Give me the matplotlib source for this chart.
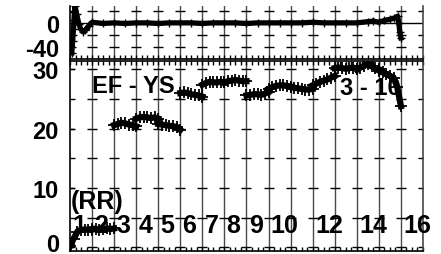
import numpy as np
import matplotlib.pyplot as plt
import matplotlib.transforms as mtransforms
from matplotlib.ticker import MultipleLocator

plt.rcParams['font.family'] = ['Liberation Sans', 'DejaVu Sans']
plt.rcParams['font.weight'] = 'bold'
plt.rcParams['axes.unicode_minus'] = False

# EF - YS per RR interval
rr_values = [
    [0.2, 1.5, 2.6, 3.0, 3.0, 3.0, 3.1],
    [3.0, 3.1, 3.0, 3.1, 3.2, 3.1, 3.2],
    [20.6, 20.8, 21.0, 20.9, 20.7, 20.6, 20.4],
    [21.7, 21.9, 22.0, 21.9, 21.8, 21.9, 21.7],
    [20.8, 20.7, 20.6, 20.5, 20.4, 20.3, 19.8],
    [26.0, 26.1, 26.0, 25.8, 25.7, 25.6, 25.4],
    [27.4, 27.7, 27.9, 27.8, 27.8, 27.9, 27.8],
    [27.8, 28.0, 28.1, 28.2, 28.1, 28.0, 28.0],
    [25.6, 25.7, 25.8, 25.8, 25.7, 25.9, 26.2],
    [26.7, 27.0, 27.2, 27.3, 27.3, 27.2, 27.1],
    [27.0, 26.9, 26.8, 26.7, 26.6, 26.6, 26.7],
    [27.3, 27.6, 27.9, 28.1, 28.3, 28.6, 28.9],
    [30.2, 30.3, 30.2, 30.1, 30.2, 30.3, 30.1],
    [30.0, 30.3, 30.6, 30.9, 30.5, 30.2, 30.0],
    [29.8, 29.5, 29.2, 28.9, 28.6, 27.0, 23.8],
]
rr_labels = ['1', '2', '3', '4', '5', '6', '7', '8', '9', '10', '12', '14', '16']
rr_label_pos = [0, 1, 2, 3, 4, 5, 6, 7, 8, 9, 11, 13, 15]

# upper trace
top_x = [0.08, 0.1, 0.12, 0.14, 0.16, 0.18, 0.2, 0.23, 0.3, 0.4, 0.5, 0.6,
         0.7, 0.85, 1.0, 1.5, 2.0, 2.5, 3.0, 3.5, 4.0, 4.5, 5.0, 5.5, 6.0,
         6.5, 7.0, 7.5, 8.0, 8.5, 9.0, 9.5, 10.0, 10.5, 11.0, 11.5, 12.0,
         12.5, 13.0, 13.5, 13.75, 14.0, 14.25, 14.5, 14.7, 14.85, 14.9,
         14.95, 15.0]
top_y = [-50, -40, -30, -20, -10, 5, 18, 28, 15, -2, -11, -15,
         -12, -5, 1, -1, 0, -1, 0, 0, -1, 0, 0, 0, -1,
         0, 0, 0, -1, 0, 0, 0, 0, 0, 1, 0, 0,
         0, 0, 2, 3, 1, 4, 6, 8, 11, 0,
         -15, -25]

fig = plt.figure(figsize=(4.41, 2.55), dpi=100)
ax1 = fig.add_axes([0.1587, 0.7647, 0.8005, 0.2078])
ax2 = fig.add_axes([0.1587, 0.0118, 0.8005, 0.745])

grid_x = np.arange(0, 17)

for ax in (ax1, ax2):
    ax.set_xlim(0, 16)
    for gx in grid_x[1:]:
        ax.axvline(gx, color='#4a4a4a', lw=1.0, zorder=1)
    ax.xaxis.set_major_locator(MultipleLocator(1))
    ax.xaxis.set_minor_locator(MultipleLocator(0.25))
    ax.tick_params(axis='x', which='both', direction='in', labelbottom=False,
                   length=3, width=1, top=True)
    ax.tick_params(axis='y', which='both', direction='in', length=3, width=1,
                   labelsize=17, pad=8)
    for s in ax.spines.values():
        s.set_linewidth(1.2)
    ax.spines['right'].set_color('#4a4a4a')

# top panel
ax1.set_ylim(-60, 28)
ax1.set_yticks([0, -40])
ax1.axhline(0, color='black', lw=1, zorder=1)
ax1.spines['top'].set_visible(False)
ax1.tick_params(axis='x', which='both', top=False)
cx, cy = np.meshgrid(grid_x, [20, -20, -40])
ax1.plot(cx.ravel(), cy.ravel(), ls='none', marker='_', ms=7, mew=1,
         color='black', zorder=2)
ax1.plot(top_x, top_y, color='black', lw=3.8, marker='+', ms=6, mew=1,
         zorder=3)

# bottom panel
ax2.set_ylim(-0.6, 31.4)
ax2.set_yticks([0, 10, 20, 30])
cx, cy = np.meshgrid(grid_x, [0, 5, 10, 15, 20, 25, 30])
ax2.plot(cx.ravel(), cy.ravel(), ls='none', marker='_', ms=7, mew=1,
         color='black', zorder=2)
for k, seg in enumerate(rr_values):
    xs = np.linspace(k, k + 1, len(seg))
    ax2.plot(xs, seg, color='black', lw=4.5, marker='+', ms=8, mew=1.3,
             zorder=3)

# nudge the bottom "0" label up so it stays inside the figure
zero_lab = ax2.get_yticklabels()[0]
zero_lab.set_transform(zero_lab.get_transform() +
                       mtransforms.ScaledTranslation(0, 4 / 72,
                                                     fig.dpi_scale_trans))

for lab, pos in zip(rr_labels, rr_label_pos):
    ax2.text(pos + 0.1, 3.8, lab, fontsize=18, fontweight='bold',
             ha='left', va='center', zorder=4)
ax2.text(0.05, 7.9, '(RR)', fontsize=18, fontweight='bold', ha='left',
         va='center', zorder=4)
ax2.text(1.0, 27.2, 'EF - YS', fontsize=17, fontweight='bold', ha='left',
         va='center', zorder=4)
ax2.text(15.0, 26.9, '3 - 10', fontsize=17, fontweight='bold', ha='right',
         va='center', zorder=4)

fig.savefig('out.png', dpi=100)
